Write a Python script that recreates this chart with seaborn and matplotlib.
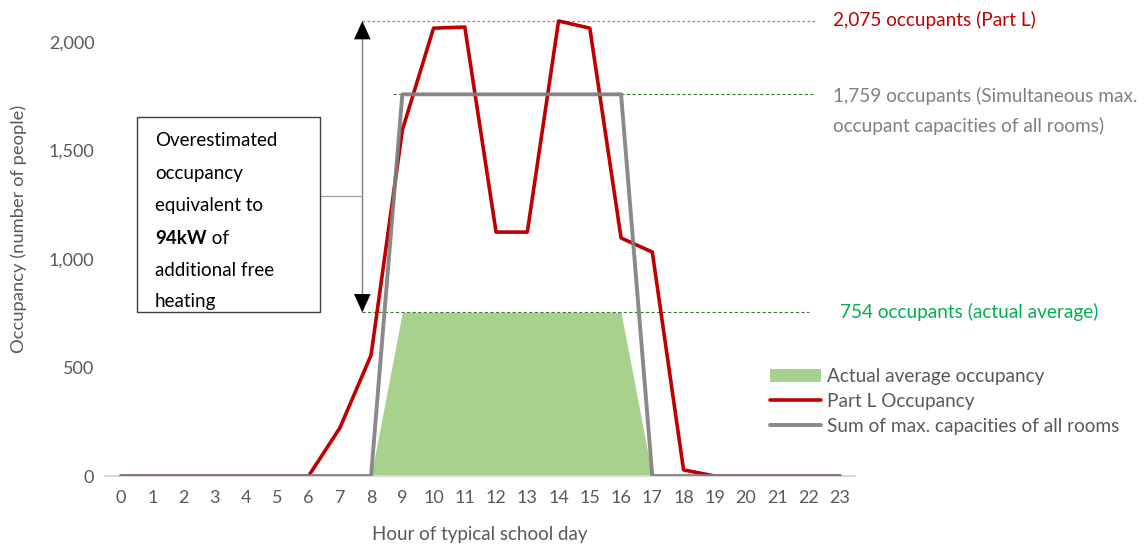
import numpy as np
import pandas as pd
import matplotlib
matplotlib.use("Agg")
import matplotlib.pyplot as plt
import matplotlib.patches as mpatches
import seaborn as sns

# data
hours = list(range(24))
part_l = [0, 0, 0, 0, 0, 0, 0, 221, 557, 1594, 2064, 2069, 1124, 1124,
          2097, 2064, 1097, 1032, 28, 0, 0, 0, 0, 0]
max_capacity = [0, 0, 0, 0, 0, 0, 0, 0, 0, 1759, 1759, 1759, 1759, 1759,
                1759, 1759, 1759, 0, 0, 0, 0, 0, 0, 0]
actual_avg = [0, 0, 0, 0, 0, 0, 0, 0, 0, 754, 754, 754, 754, 754,
              754, 754, 754, 0, 0, 0, 0, 0, 0, 0]
y_ticks = [0, 500, 1000, 1500, 2000]

RED = "#C00000"
GREY = "#808080"
GREEN_FILL = "#A9D18E"
GREEN_TXT = "#00B050"
TXT = "#595959"

df = pd.DataFrame({"hour": hours, "part_l": part_l,
                   "max_cap": max_capacity, "actual": actual_avg})

sns.set_theme(style="white")
plt.rcParams["font.family"] = ["Lato", "DejaVu Sans"]

fig = plt.figure(figsize=(11.45, 5.45), dpi=100)
ax = fig.add_axes([0.0921, 0.1266, 0.655, 0.856])

ax.fill_between(df["hour"], df["actual"], color=GREEN_FILL, lw=0,
                label="Actual average occupancy", zorder=1)
sns.lineplot(data=df, x="hour", y="part_l", color=RED, lw=2.6,
             label="Part L Occupancy", ax=ax, zorder=3)
sns.lineplot(data=df, x="hour", y="max_cap", color=GREY, lw=2.8, alpha=0.92,
             label="Sum of max. capacities of all rooms", ax=ax, zorder=4)

ax.set_xlim(-0.5, 23.5)
ax.set_ylim(0, 2150)
ax.set_xticks(hours)
ax.set_yticks(y_ticks)
ax.set_yticklabels([f"{v:,}" for v in y_ticks])
ax.tick_params(length=0, labelsize=13, labelcolor=TXT, pad=8)
ax.tick_params(axis="x", pad=10)
for s in ["top", "right", "left"]:
    ax.spines[s].set_visible(False)
ax.spines["bottom"].set_color("#D9D9D9")
ax.spines["bottom"].set_linewidth(1.5)
ax.set_xlabel("Hour of typical school day", fontsize=13.5, color=TXT)
ax.set_ylabel("Occupancy (number of people)", fontsize=13.2, color=TXT)
ax.xaxis.set_label_coords(0.4995, -0.108)
ax.yaxis.set_label_coords(-0.105, 0.53)

# reference lines
peak_l = max(part_l)
peak_cap = max(max_capacity)
peak_act = max(actual_avg)
arrow_x = 7.72
ax.plot([arrow_x, 22.2], [peak_l, peak_l], ls=(0, (2, 2)), color="#E06666", lw=0.9, zorder=2)
ax.plot([8.7, 22.2], [peak_cap, peak_cap], ls=(0, (3, 2)), color="#3A7D34", lw=0.8, zorder=2)
ax.plot([arrow_x, 22.0], [peak_act, peak_act], ls=(0, (3, 2)), color="#3A7D34", lw=0.8, zorder=2)

# double arrow
ax.plot([arrow_x, arrow_x], [peak_act + 60, peak_l - 60], color="#7F7F7F", lw=1.0, zorder=2)
for tip, tail in [(peak_l, peak_act), (peak_act, peak_l)]:
    ax.annotate("", xy=(arrow_x, tip), xytext=(arrow_x, tail),
                arrowprops=dict(arrowstyle="-|>,head_length=1.1,head_width=0.5",
                                color="black", lw=0, shrinkA=0, shrinkB=0), zorder=5)
# connector from box
ax.plot([6.37, arrow_x], [1290, 1290], color="#A6A6A6", lw=1.0, clip_on=False, zorder=2)

# annotation box
fig.patches.append(mpatches.Rectangle((137 / 1145, 1 - 312 / 545), 183 / 1145, 195 / 545,
                                      transform=fig.transFigure, fill=True, fc="white",
                                      ec="#404040", lw=1.0, zorder=6))
box_lines = ["Overestimated", "occupancy", "equivalent to", None, "additional free", "heating"]
line_y = [141, 174, 206, 238, 270, 301]
renderer = fig.canvas.get_renderer()
for txt, yp in zip(box_lines, line_y):
    yf = 1 - yp / 545
    if txt is None:
        tb = fig.text(155 / 1145, yf, "94kW", fontsize=13.5, fontweight="bold",
                      color="black", va="center", zorder=7)
        x1 = tb.get_window_extent(renderer).x1
        fig.text(x1 / 1145, yf, " of", fontsize=13.5, color="black", va="center", zorder=7)
    else:
        fig.text(155 / 1145, yf, txt, fontsize=13.5, color="black", va="center", zorder=7)

# right side labels
fig.text(833 / 1145, 1 - 20 / 545, "2,075 occupants (Part L)", fontsize=13.7,
         color=RED, va="center")
fig.text(833 / 1145, 1 - 96 / 545, "1,759 occupants (Simultaneous max.", fontsize=13.7,
         color=GREY, va="center")
fig.text(833 / 1145, 1 - 126 / 545, "occupant capacities of all rooms)", fontsize=13.7,
         color=GREY, va="center")
fig.text(840 / 1145, 1 - 312 / 545, "754 occupants (actual average)", fontsize=13.7,
         color=GREEN_TXT, va="center")

leg = ax.legend(loc="upper left", bbox_to_anchor=(770 / 1145, 1 - 368 / 545),
                bbox_transform=fig.transFigure, frameon=False, fontsize=13.7,
                borderpad=0, borderaxespad=0, handlelength=2.7, handletextpad=0.3,
                labelspacing=0.42)
for t in leg.get_texts():
    t.set_color(TXT)

fig.savefig("out.png", dpi=100)
